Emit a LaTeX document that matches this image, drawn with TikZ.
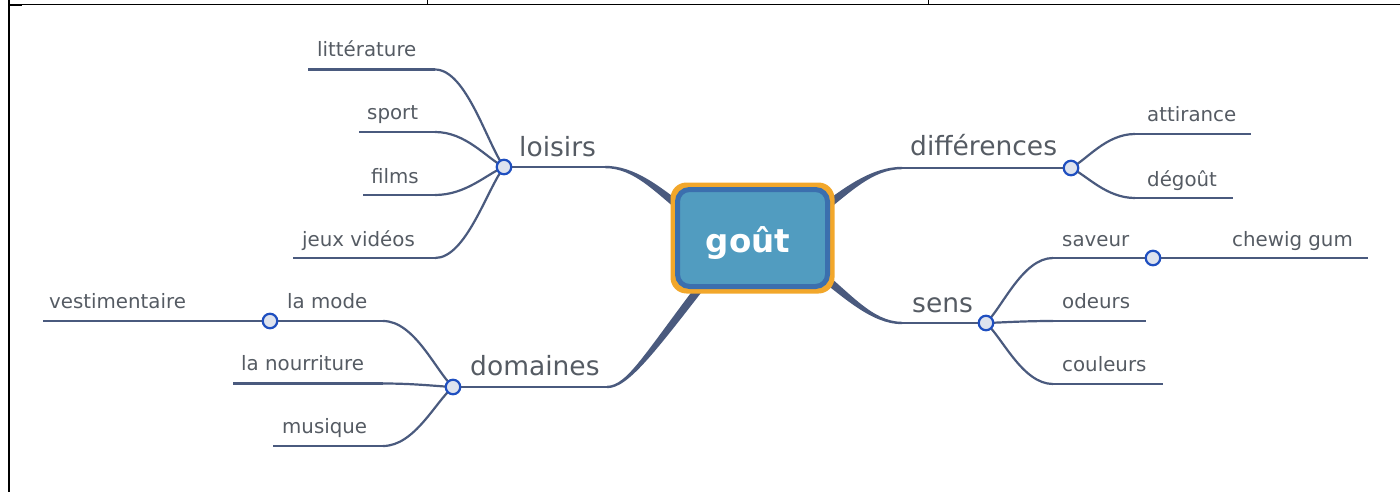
\documentclass[tikz,border=0pt]{standalone}
\usepackage{fontspec}
\setmainfont{DejaVu Sans}
\usetikzlibrary{calc}
\pgfdeclarelayer{bg}
\pgfsetlayers{bg,main}
\definecolor{linecol}{HTML}{4A5A7E}
\definecolor{txtcol}{HTML}{555B63}
\definecolor{dotblue}{HTML}{1F4FC0}
\definecolor{dotfill}{HTML}{DEE3EE}
\definecolor{orangec}{HTML}{F2A72B}
\definecolor{boxblue}{HTML}{3B6FAE}
\definecolor{boxfill}{HTML}{519CC0}
\newcommand\leafcurve[2]{\draw[leaf] (#2) .. controls ($(#2)!0.45!(#1.center|-#2)$) and ($(#1.center)!0.25!(#2)$) .. (#1.center);}
\begin{document}
\begin{tikzpicture}[x=1pt,y=-1pt,
  leaf/.style={draw=linecol,line width=2.2pt},
  dot/.style={circle,draw=dotblue,fill=dotfill,line width=2.2pt,minimum size=14.5pt,inner sep=0pt},
  leaftxt/.style={text=txtcol,font=\fontsize{19.8}{24}\selectfont,inner sep=0pt},
  maintxt/.style={text=txtcol,font=\fontsize{26.5}{32}\selectfont,inner sep=0pt},
  trunk/.style={fill=linecol}]
\useasboundingbox (0,0) rectangle (1400,492);
% table borders
\draw[black,line width=1.5pt] (8,4.5) -- (1400,4.5);
\draw[black,line width=2pt] (9,0) -- (9,492);
\draw[black,line width=1pt] (427.5,0) -- (427.5,4.5);
\draw[black,line width=1pt] (928.5,0) -- (928.5,4.5);
\fill[black] (9,4) rectangle (22,6.5);

% central box
\node[draw=boxblue,fill=boxfill,line width=5pt,rounded corners=12pt,minimum width=150pt,minimum height=97pt,inner sep=0pt] (gout) at (752.5,238) {};
\node[text=white,font=\bfseries\fontsize{32.5}{38}\selectfont,anchor=base,inner sep=0pt] (goutlbl) at (748,252) {goût};

% circles
\node[dot] (L) at (504,167) {};
\node[dot] (D) at (453,387) {};
\node[dot] (V) at (270,321) {};
\node[dot] (F) at (1071,168) {};
\node[dot] (S) at (986,323) {};
\node[dot] (SV) at (1153,258) {};

% coordinates
\coordinate (tL) at (605,167);
\coordinate (bL) at (690,215);
\coordinate (tD) at (607,387);
\coordinate (bD) at (712,272);
\coordinate (tF) at (902,168);
\coordinate (bF) at (815,215);
\coordinate (tS) at (902,323);
\coordinate (bS) at (815,270);

\coordinate (litin) at (435,69.5);   \coordinate (litout) at (308,69.5);
\coordinate (spoin) at (435,132);    \coordinate (spoout) at (359,132);
\coordinate (filin) at (435,195);    \coordinate (filout) at (363,195);
\coordinate (jeuin) at (435,258);    \coordinate (jeuout) at (293,258);
\coordinate (modin) at (383,321);    \coordinate (vesout) at (43,321);
\coordinate (nouin) at (383,383.5);  \coordinate (nouout) at (233,383.5);
\coordinate (musin) at (383,446);    \coordinate (musout) at (273,446);
\coordinate (attin) at (1135,134);   \coordinate (attout) at (1251,134);
\coordinate (degin) at (1135,198);   \coordinate (degout) at (1233,198);
\coordinate (savin) at (1053,258);   \coordinate (chout) at (1368,258);
\coordinate (odein) at (1053,321);   \coordinate (odeout) at (1146,321);
\coordinate (couin) at (1053,384);   \coordinate (couout) at (1163,384);

\begin{pgfonlayer}{bg}
% trunks
\fill[trunk] ($(tL)+(0,-1.2)$) .. controls +(30,0) and +(-32,-25) .. ($(bL)+(2.5,-3.2)$) -- ($(bL)+(-2.5,3.2)$) .. controls +(-32,-25) and +(30,0) .. ($(tL)+(0,1.2)$) -- cycle;
\fill[trunk] ($(tF)+(0,-1.2)$) .. controls +(-30,0) and +(32,-25) .. ($(bF)+(-2.5,-3.2)$) -- ($(bF)+(2.5,3.2)$) .. controls +(32,-25) and +(-30,0) .. ($(tF)+(0,1.2)$) -- cycle;
\fill[trunk] ($(tS)+(0,1.2)$) .. controls +(-30,0) and +(32,25) .. ($(bS)+(-2.5,3.2)$) -- ($(bS)+(2.5,-3.2)$) .. controls +(32,25) and +(-30,0) .. ($(tS)+(0,-1.2)$) -- cycle;
\fill[trunk] ($(tD)+(0,-1.2)$) .. controls +(21,0) and +(-62,80) .. ($(bD)+(-3.2,-2.5)$) -- ($(bD)+(3.2,2.5)$) .. controls +(-62,80) and +(21,0) .. ($(tD)+(0,1.2)$) -- cycle;
% orange ring
\fill[orangec,rounded corners=16pt] ($(gout.north west)+(-4.5,-4.5)$) rectangle ($(gout.south east)+(4.5,4.5)$);
% main lines
\draw[leaf] (L.center) -- (tL);
\draw[leaf] (D.center) -- (tD);
\draw[leaf] (F.center) -- (tF);
\draw[leaf] (S.center) -- (tS);
% loisirs leaves
\leafcurve{L}{litin} \draw[leaf] (litin) -- (litout);
\leafcurve{L}{spoin} \draw[leaf] (spoin) -- (spoout);
\leafcurve{L}{filin} \draw[leaf] (filin) -- (filout);
\leafcurve{L}{jeuin} \draw[leaf] (jeuin) -- (jeuout);
% domaines leaves
\leafcurve{D}{modin} \draw[leaf] (modin) -- (V.center) -- (vesout);
\leafcurve{D}{nouin} \draw[leaf] (nouin) -- (nouout);
\leafcurve{D}{musin} \draw[leaf] (musin) -- (musout);
% differences leaves
\leafcurve{F}{attin} \draw[leaf] (attin) -- (attout);
\leafcurve{F}{degin} \draw[leaf] (degin) -- (degout);
% sens leaves
\leafcurve{S}{savin} \draw[leaf] (savin) -- (SV.center) -- (chout);
\leafcurve{S}{odein} \draw[leaf] (odein) -- (odeout);
\leafcurve{S}{couin} \draw[leaf] (couin) -- (couout);
\end{pgfonlayer}

% main labels
\node[maintxt,anchor=base west] (loisirs) at (519,157) {loisirs};
\node[maintxt,anchor=base west] (domaines) at (470,375) {domaines};
\node[maintxt,anchor=base west] (diff) at (910,156) {différences};
\node[maintxt,anchor=base west] (sens) at (912,312) {sens};

% leaf labels
\node[leaftxt,anchor=base west] (lit) at (317,57) {littérature};
\node[leaftxt,anchor=base west] (spo) at (367,120) {sport};
\node[leaftxt,anchor=base west] (fil) at (371,183) {films};
\node[leaftxt,anchor=base west] (jeu) at (302,246) {jeux vidéos};
\node[leaftxt,anchor=base west] (mod) at (287,308) {la mode};
\node[leaftxt,anchor=base west] (ves) at (49,308) {vestimentaire};
\node[leaftxt,anchor=base west] (nou) at (241,370) {la nourriture};
\node[leaftxt,anchor=base west] (mus) at (282,433) {musique};
\node[leaftxt,anchor=base west] (att) at (1147,122) {attirance};
\node[leaftxt,anchor=base west] (deg) at (1147,186) {dégoût};
\node[leaftxt,anchor=base west] (sav) at (1062,246) {saveur};
\node[leaftxt,anchor=base west] (che) at (1232,246) {chewig gum};
\node[leaftxt,anchor=base west] (ode) at (1062,308) {odeurs};
\node[leaftxt,anchor=base west] (cou) at (1062,371) {couleurs};
\end{tikzpicture}
\end{document}
